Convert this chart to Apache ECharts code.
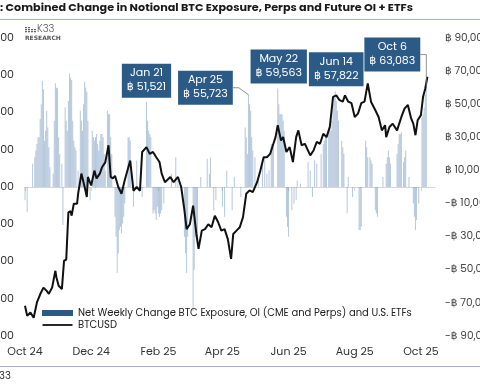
<!DOCTYPE html>
<html>
<head>
<meta charset="utf-8">
<script src="https://cdn.jsdelivr.net/npm/echarts@6/dist/echarts.min.js"></script>
<style>html,body{margin:0;padding:0;background:#fff;}#main{width:480px;height:384px;}</style>
</head>
<body>
<div id="main"></div>
<script>
// ---------- DATA ----------
const startDateLabel = '2024-10-01'; // day 0
const xTickDays = [0, 61, 123, 182, 243, 304, 365];
const xTickLabels = ['Oct 24', 'Dec 24', 'Feb 25', 'Apr 25', 'Jun 25', 'Aug 25', 'Oct 25'];

// BTCUSD (left axis, USD), day offsets from 2024-10-01
const lineDays = [0,2,5,8,11,14,17,20,22,25,28,29,31,34,36,38,40,42,43,45,48,49,52,55,57,58,61,64,66,69,71,74,77,79,81,83,86,89,92,97,100,103,106,108,112,115,118,121,124,126,129,134,137,141,144,147,149,152,155,158,160,163,166,169,172,175,178,181,184,187,190,192,195,198,201,204,207,210,214,217,220,223,226,229,231,233,236,238,241,244,247,250,252,255,258,263,266,269,272,275,278,281,284,287,290,293,295,298,301,304,307,310,313,316,319,323,326,329,332,333,336,339,343,347,350,353,356,358,360,362,365,367,369,371];
const lineValues = [63100,60400,61300,59900,64000,66200,68000,67100,66300,68000,72500,70700,68500,67600,75200,75500,88200,88500,87300,90500,90500,93200,98600,95000,92300,97700,95400,99400,97300,98600,100300,101600,106200,97700,97300,98000,95000,93200,96900,102100,94000,95000,94000,104400,105700,103900,104400,103000,101700,98600,96300,97700,96300,97700,95000,88700,83700,85000,90000,82400,78400,83300,83700,85000,84200,87300,85600,83300,83700,81000,75700,82400,83300,84200,86900,93200,94100,93600,96300,99400,103000,103000,103900,106600,108400,111600,107500,108400,104400,105700,101700,108400,110200,106200,106600,103500,104800,107100,106600,109300,108400,111100,119200,119600,118300,117900,119600,117900,117500,113800,114700,117500,117900,122800,117900,115600,113800,110200,111600,108400,111100,112000,110200,113800,116100,117000,113400,112000,108900,112900,114300,119200,121400,124600];

// Net weekly change in BTC exposure (right axis, BTC)
const barDays = [0,2,7,9,10,11,12,13,14,15,16,17,18,19,20,21,22,23,26,27,28,29,30,31,32,34,35,37,38,39,40,41,42,43,44,45,46,47,49,51,52,53,54,55,56,57,58,60,62,63,64,65,66,67,68,69,70,71,72,73,74,76,77,78,79,80,83,84,85,86,87,88,89,90,91,92,95,96,97,100,103,108,112,113,114,115,116,118,119,120,121,122,123,124,125,126,128,135,139,141,147,148,149,150,155,156,157,158,159,162,168,170,171,174,176,182,184,186,191,193,199,203,204,205,206,207,208,209,210,212,215,219,221,223,225,227,228,229,233,234,235,236,237,238,239,241,242,243,246,248,250,251,254,261,263,265,267,269,273,275,276,277,278,280,281,282,283,284,285,286,287,288,289,292,293,294,297,298,302,308,309,310,314,315,316,318,319,320,323,324,325,330,333,334,335,336,337,343,344,345,346,347,349,350,351,354,358,359,360,361,363,366,367,368,369,370];
const barValues = [-8000,-15000,14000,18000,22000,26000,30000,30000,41000,50000,64000,59000,28000,34000,46000,36000,24000,12000,8000,40000,62600,60000,59600,30000,20000,14000,-23000,48000,40000,34000,52000,68600,66000,64600,40000,28000,24000,22000,10000,46000,40000,34000,50000,63600,60000,57500,40000,-8000,34000,30000,28000,30000,32000,26000,22000,28000,32000,32000,30000,20000,10000,46000,44000,44000,30000,20000,-18000,-30000,-52000,-40000,-26000,-24000,-28000,-22000,-18000,-10000,30000,30000,28000,-12000,16000,-6000,51521,40000,34000,32000,30000,-16000,-14000,-16000,-20000,-12000,-16000,-18000,-16000,-14000,-10000,8000,18000,6000,-30000,-40000,-52000,-30000,-75000,-50000,-30000,-32000,-34000,6000,17000,8000,18000,-14000,-8000,-12000,-18000,10000,-14000,6000,-6000,36000,30000,20000,55723,50000,46000,30000,22000,18000,6000,16000,18000,8000,10000,26000,26000,24000,59563,50000,44000,44000,44000,40000,34000,-18000,-24000,-30000,-14000,-10000,-8000,4000,2000,15000,10000,-6000,16000,14000,20000,26000,28000,30000,32000,36000,36000,34000,40000,50000,54000,57822,52000,46000,40000,28000,24000,20000,-16000,6000,-6000,-26000,-26000,-24000,28000,24000,18000,18000,16000,14000,-14000,-16000,-18000,6000,14000,18000,22000,18000,14000,20000,26000,32000,32000,33000,15000,18000,22000,6000,-10000,-18000,-26000,-20000,-10000,42000,44000,48000,56000,63083];

// Call-out boxes
const noteDays = [112, 206, 233, 286, 370];
const noteDates = ['Jan 21', 'Apr 25', 'May 22', 'Jun 14', 'Oct 6'];
const noteValues = [51521, 55723, 59563, 57822, 63083];

const barName = 'Net Weekly Change BTC Exposure, OI (CME and Perps) and U.S. ETFs';
const lineName = 'BTCUSD';

// ---------- STYLE ----------
const FONT = 'Poppins, "Open Sans", "DejaVu Sans", sans-serif';
const BOX = '#2C5A87';
const NOTE_FS = 11, NOTE_LH = 14, NOTE_PAD = [3, 5];
const fmt = v => Math.round(v).toLocaleString('en-US');
const btcFmt = v => (v < 0 ? '-฿ ' : '฿ ') + fmt(Math.abs(v));
const noteText = k => noteDates[k] + '\n฿ ' + fmt(noteValues[k]);

// per-note label placement (style only)
const notePlace = {
  'Jan 21': {offset: [0, 0], distance: 4},
  'Apr 25': {offset: [-43, 10], distance: 0, leader: 'side', len: 6},
  'May 22': {offset: [1, 0], distance: 5},
  'Jun 14': {offset: [1, 0], distance: 5},
  'Oct 6':  {offset: [-34, -11], distance: 0, leader: 'down'}
};

const barData = barDays.map((d, i) => {
  const k = noteDays.indexOf(d);
  if (k < 0) return [d, barValues[i]];
  const p = notePlace[noteDates[k]];
  return {
    value: [d, barValues[i]],
    label: {
      show: true, position: 'top', distance: p.distance, offset: p.offset,
      formatter: noteText(k),
      backgroundColor: BOX, color: '#fff', fontFamily: FONT, fontSize: NOTE_FS,
      lineHeight: NOTE_LH, padding: NOTE_PAD, align: 'center'
    }
  };
});
const lineData = lineDays.map((d, i) => [d, lineValues[i]]);

const iconCells = [[0,0],[0,2],[0,4],[3,0],[3,2],[3,4],[6,2],[9,2],[6,4],[9,4]];
const baseGraphic = [
  {id: 'title', type: 'text', left: 0, top: 3, style: {text: ': Combined Change in Notional BTC Exposure, Perps and Future OI + ETFs', fontFamily: FONT, fontSize: 11.2, fontWeight: 'bold', fill: '#1a1a1a'}},
  {id: 'rule1', type: 'rect', left: 0, top: 19, shape: {width: 480, height: 1}, style: {fill: '#9fb3cc'}},
  {id: 'rule2', type: 'rect', left: 0, top: 366, shape: {width: 480, height: 1}, style: {fill: '#9fb3cc'}},
  {id: 'src', type: 'text', left: -7, top: 371, style: {text: 'K33', fontFamily: FONT, fontSize: 10, fill: '#333'}},
  {id: 'logoIcon', type: 'group', left: 25, top: 27, children: iconCells.map(c => (
    {type: 'rect', shape: {x: c[0], y: c[1], width: 2, height: 1.2}, style: {fill: '#666'}}))},
  {id: 'logoK', type: 'text', left: 37, top: 24, style: {text: 'K33', fontFamily: FONT, fontSize: 10, fontWeight: 300, fill: '#555'}},
  {id: 'logoR', type: 'text', left: 25, top: 35, style: {text: 'RESEARCH', fontFamily: '"DejaVu Sans"', fontSize: 6, fontWeight: 'bold', fill: '#555'}}
];

const chart = echarts.init(document.getElementById('main'), null, {renderer: 'canvas'});
chart.setOption({
  animation: false,
  textStyle: {fontFamily: FONT},
  grid: {left: 25, right: 45, top: 38, bottom: 48, outerBoundsMode: 'none', containLabel: false},
  xAxis: {
    type: 'value', min: 0, max: 378,
    axisLine: {show: true, lineStyle: {color: '#d6d6d6'}},
    axisTick: {show: true, customValues: xTickDays, length: 4, lineStyle: {color: '#d6d6d6'}},
    axisLabel: {customValues: xTickDays, formatter: v => xTickLabels[xTickDays.indexOf(v)], color: '#333', fontSize: 11, margin: 11},
    splitLine: {show: false}
  },
  yAxis: [
    {type: 'value', position: 'left', min: 55000, max: 135000, interval: 10000,
     axisLine: {show: false}, axisTick: {show: false}, splitLine: {show: false},
     axisLabel: {formatter: v => '$' + fmt(v), color: '#333', fontSize: 11, margin: 11}},
    {type: 'value', position: 'right', min: -90000, max: 90000, interval: 20000,
     axisLine: {show: false}, axisTick: {show: false}, splitLine: {show: false},
     axisLabel: {formatter: btcFmt, color: '#444', fontSize: 10.5, margin: 10, align: 'left'}}
  ],
  legend: {
    orient: 'vertical', left: 42, top: 308, padding: 0, itemWidth: 31, itemHeight: 6, itemGap: 2,
    textStyle: {fontSize: 10, color: '#222', fontFamily: FONT},
    data: [
      {name: barName, icon: 'rect', itemStyle: {color: BOX, opacity: 1}},
      {name: lineName, icon: 'path://M0,0 L0,0 M0,2.1 L30,2.1 L30,3.9 L0,3.9 Z M30,6 L30,6', itemStyle: {color: '#111'}}
    ]
  },
  series: [
    {name: barName, type: 'bar', yAxisIndex: 1, barWidth: 1, data: barData,
     itemStyle: {color: 'rgba(110,145,185,0.5)'}, z: 2},
    {name: lineName, type: 'line', yAxisIndex: 0, data: lineData, symbol: 'none',
     lineStyle: {color: '#111', width: 2}, itemStyle: {color: '#111'}, z: 3}
  ],
  graphic: baseGraphic
});

// leader lines, computed from the library's own scales
const ctx = document.createElement('canvas').getContext('2d');
ctx.font = NOTE_FS + 'px ' + FONT;
const leaders = [];
noteDays.forEach((d, k) => {
  const p = notePlace[noteDates[k]];
  if (!p.leader) return;
  const pt = chart.convertToPixel({xAxisIndex: 0, yAxisIndex: 1}, [d, noteValues[k]]);
  const w = Math.max(...noteText(k).split('\n').map(s => ctx.measureText(s).width)) + NOTE_PAD[1] * 2;
  const h = NOTE_LH * 2 + NOTE_PAD[0] * 2;
  const cx = pt[0] + p.offset[0];
  const cy = pt[1] - p.distance - h / 2 + p.offset[1];
  const right = cx + w / 2;
  const pts = p.leader === 'side'
    ? [[right, cy], [right + p.len, cy], [pt[0], pt[1]]]
    : [[right, cy], [pt[0], cy], [pt[0], pt[1] + 4]];
  leaders.push({id: 'lead' + k, type: 'polyline', shape: {points: pts}, style: {stroke: '#777', lineWidth: 0.8, fill: null}, z: 10});
});
chart.setOption({graphic: baseGraphic.concat(leaders)});
</script>
</body>
</html>
